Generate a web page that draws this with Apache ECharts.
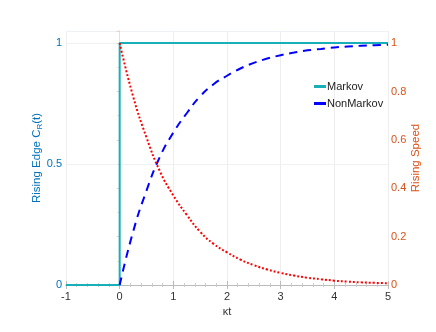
<!DOCTYPE html>
<html>
<head>
<meta charset="utf-8">
<script src="https://cdn.jsdelivr.net/npm/echarts@6/dist/echarts.min.js"></script>
<style>
  html, body { margin: 0; padding: 0; background: #fff; }
  #chart { width: 436px; height: 332px; }
</style>
</head>
<body>
<div id="chart"></div>
<script>
// values
var kt = [0, 0.25, 0.5, 0.75, 1, 1.25, 1.5, 1.75, 2, 2.25, 2.5, 2.75, 3, 3.25, 3.5, 3.75, 4, 4.25, 4.5, 4.75, 5];
var markovT = [-1, 0, 0, 5];
var markovC = [0, 0, 1, 1];
var nonMarkovC = [0, 0.22, 0.39, 0.53, 0.63, 0.71, 0.78, 0.83, 0.865, 0.895, 0.918, 0.936, 0.95, 0.961, 0.97, 0.976, 0.982, 0.986, 0.989, 0.991, 0.993];
var speed = [1, 0.78, 0.61, 0.47, 0.37, 0.29, 0.22, 0.17, 0.135, 0.105, 0.082, 0.064, 0.05, 0.039, 0.03, 0.024, 0.018, 0.014, 0.011, 0.009, 0.007];
var leftTicks = [0, 0.5, 1];

function pairs(xs, ys) {
    return xs.map(function(x, i) { return [x, ys[i]]; });
}

var myChart = echarts.init(document.getElementById('chart'));

var leftColor = '#0072bd';
var rightColor = '#d95319';
var font = 'Liberation Sans';

option = {
    animation: false,
    textStyle: { fontFamily: font },
    grid: { left: 66, right: 48, top: 31, bottom: 47 },
    legend: {
        orient: 'vertical',
        left: 309,
        top: 76,
        itemGap: 6,
        itemWidth: 12,
        itemHeight: 3,
        textStyle: { color: '#222', fontSize: 11, padding: [0, 0, 0, -4] },
        data: [
            { name: 'Markov', icon: 'rect' },
            { name: 'NonMarkov', icon: 'rect' }
        ]
    },
    xAxis: [{
        type: 'value',
        min: -1,
        max: 5,
        interval: 1,
        name: 'κt',
        nameLocation: 'middle',
        nameGap: 17,
        nameTextStyle: { color: '#333', fontSize: 11 },
        axisLine: { lineStyle: { color: '#bbb' } },
        axisTick: { inside: true, length: 4, lineStyle: { color: '#bbb' } },
        minorTick: { show: true, splitNumber: 5, length: 2, lineStyle: { color: '#ccc' } },
        axisLabel: { color: '#333', fontSize: 11, margin: 6 },
        splitLine: { show: true, lineStyle: { color: '#eee' } }
    }, {
        type: 'value',
        position: 'top',
        min: -1,
        max: 5,
        interval: 1,
        axisLine: { show: true, lineStyle: { color: '#bbb' } },
        axisTick: { show: true, inside: true, length: 4, lineStyle: { color: '#bbb' } },
        minorTick: { show: true, splitNumber: 5, length: 2, lineStyle: { color: '#ccc' } },
        axisLabel: { show: false },
        splitLine: { show: false }
    }],
    yAxis: [{
        type: 'value',
        min: 0,
        max: 1.05,
        interval: 0.5,
        name: '{a|Rising Edge C}{s|R}{a|(t)}',
        nameLocation: 'middle',
        nameRotate: 90,
        nameGap: 22,
        nameMoveOverlap: false,
        nameTextStyle: {
            rich: {
                a: { color: leftColor, fontSize: 11.5, fontFamily: font },
                s: { color: leftColor, fontSize: 8, fontFamily: font, verticalAlign: 'bottom', padding: [6, 0, 0, 0] }
            }
        },
        axisLine: { show: true, lineStyle: { color: '#a9cfe8' } },
        axisTick: { show: false },
        axisLabel: {
            color: leftColor, fontSize: 11, margin: 4,
            formatter: function(v) { return leftTicks.indexOf(v) >= 0 ? String(v) : ''; }
        },
        splitLine: { show: true, lineStyle: { color: '#eef2f7' } }
    }, {
        type: 'value',
        min: 0,
        max: 1.05,
        interval: 0.2,
        name: 'Rising Speed',
        nameLocation: 'middle',
        nameRotate: 90,
        nameGap: 22,
        nameMoveOverlap: false,
        nameTextStyle: { color: rightColor, fontSize: 11.5 },
        axisLine: { show: true, lineStyle: { color: '#f6d9cc' } },
        axisTick: { show: true, inside: true, length: 3, lineStyle: { color: '#f3cdbc' } },
        minorTick: { show: true, splitNumber: 2, length: 2, lineStyle: { color: '#f3cdbc' } },
        axisLabel: {
            color: rightColor, fontSize: 11, margin: 3,
            formatter: function(v) { return v > 1.01 ? '' : String(Math.round(v * 10) / 10); }
        },
        splitLine: { show: false }
    }],
    series: [{
        name: 'Markov',
        type: 'line',
        xAxisIndex: 0,
        yAxisIndex: 0,
        data: pairs(markovT, markovC),
        showSymbol: false,
        itemStyle: { color: '#17b0b8' },
        lineStyle: { color: '#17b0b8', width: 2 },
        z: 3
    }, {
        name: 'NonMarkov',
        type: 'line',
        xAxisIndex: 0,
        yAxisIndex: 0,
        data: pairs(kt, nonMarkovC),
        smooth: true,
        showSymbol: false,
        itemStyle: { color: '#0000ff' },
        lineStyle: { color: '#0000ff', width: 2, type: [8, 6] },
        z: 4
    }, {
        name: 'Rising Speed',
        type: 'line',
        xAxisIndex: 0,
        yAxisIndex: 1,
        data: pairs(kt, speed),
        smooth: true,
        showSymbol: false,
        itemStyle: { color: '#ff0000' },
        lineStyle: { color: '#ff0000', width: 2, type: [2, 2] },
        z: 5
    }]
};

option && myChart.setOption(option);
</script>
</body>
</html>
